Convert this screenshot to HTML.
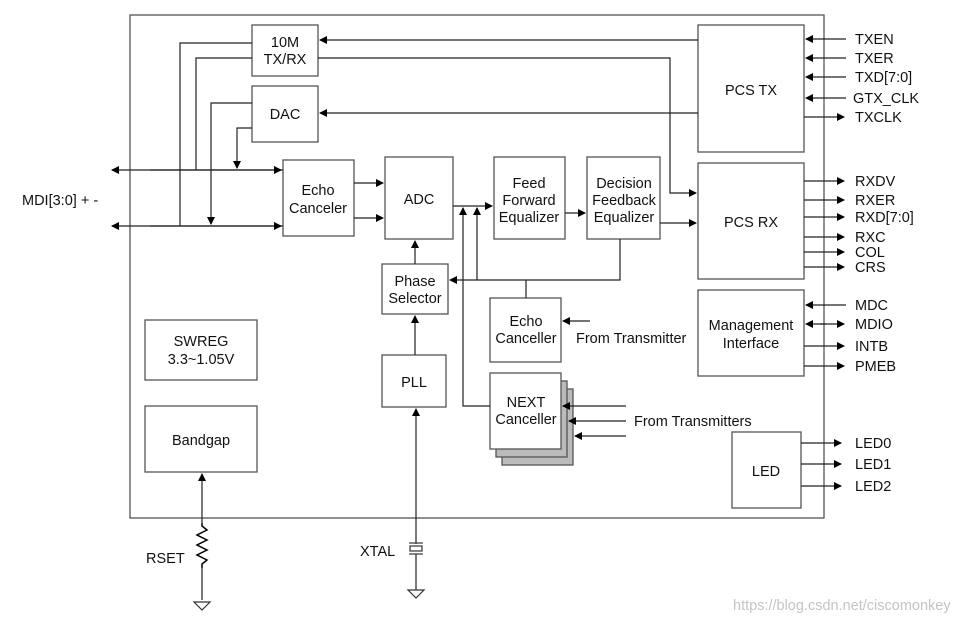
<!DOCTYPE html><html><head><style>body{margin:0;background:#fff}svg{display:block}text{font-family:"Liberation Sans",Arial,sans-serif;font-size:14.5px;fill:#111}</style></head><body>
<svg width="976" height="623" viewBox="0 0 976 623" xmlns="http://www.w3.org/2000/svg">
<defs><marker id="a" markerWidth="8" markerHeight="8" refX="7" refY="4" orient="auto" markerUnits="userSpaceOnUse"><path d="M0,0L8,4L0,8z" fill="#000"/></marker></defs>
<g fill="#fff" stroke="#555" stroke-width="1.3">
<rect x="130" y="15" width="694" height="503"/>
<rect x="252" y="25" width="66" height="51"/>
<rect x="252" y="86" width="66" height="56"/>
<rect x="283" y="160" width="71" height="76"/>
<rect x="385" y="157" width="68" height="82"/>
<rect x="382" y="264" width="66" height="50"/>
<rect x="382" y="355" width="64" height="52"/>
<rect x="494" y="157" width="71" height="82"/>
<rect x="587" y="157" width="73" height="82"/>
<rect x="698" y="25" width="106" height="127"/>
<rect x="698" y="163" width="106" height="116"/>
<rect x="698" y="290" width="106" height="86"/>
<rect x="732" y="432" width="69" height="76"/>
<rect x="490" y="298" width="71" height="64"/>
<rect x="502" y="389" width="71" height="76" fill="#bbb"/>
<rect x="496" y="381" width="71" height="76" fill="#bbb"/>
<rect x="490" y="373" width="71" height="76"/>
<rect x="145" y="320" width="112" height="60"/>
<rect x="145" y="406" width="112" height="66"/>
</g>
<g stroke="#222" stroke-width="1.2" fill="none">
<line x1="283" y1="170" x2="112" y2="170" marker-end="url(#a)"/><line x1="150" y1="170" x2="281" y2="170" marker-end="url(#a)"/>
<line x1="283" y1="226" x2="112" y2="226" marker-end="url(#a)"/><line x1="150" y1="226" x2="281" y2="226" marker-end="url(#a)"/>
<polyline points="252,43 180,43 180,226"/><polyline points="252,58 196,58 196,170"/>
<polyline points="252,103 211,103 211,224" marker-end="url(#a)"/><polyline points="252,128 237,128 237,168" marker-end="url(#a)"/>
<line x1="354" y1="183" x2="383" y2="183" marker-end="url(#a)"/><line x1="354" y1="218" x2="383" y2="218" marker-end="url(#a)"/>
<line x1="453" y1="206" x2="492" y2="206" marker-end="url(#a)"/>
<polyline points="490,406 463,406 463,208" marker-end="url(#a)"/>
<line x1="477" y1="280" x2="477" y2="208" marker-end="url(#a)"/>
<polyline points="620,239 620,280 450,280" marker-end="url(#a)"/>
<line x1="526" y1="298" x2="526" y2="280"/>
<line x1="415" y1="264" x2="415" y2="241" marker-end="url(#a)"/>
<line x1="415" y1="355" x2="415" y2="316" marker-end="url(#a)"/>
<line x1="565" y1="213" x2="585" y2="213" marker-end="url(#a)"/>
<line x1="660" y1="223" x2="696" y2="223" marker-end="url(#a)"/>
<polyline points="318,58 670,58 670,193 696,193" marker-end="url(#a)"/>
<line x1="698" y1="40" x2="320" y2="40" marker-end="url(#a)"/>
<line x1="698" y1="113" x2="320" y2="113" marker-end="url(#a)"/>
<line x1="590" y1="321" x2="563" y2="321" marker-end="url(#a)"/>
<line x1="626" y1="406" x2="563" y2="406" marker-end="url(#a)"/>
<line x1="626" y1="421" x2="569" y2="421" marker-end="url(#a)"/>
<line x1="626" y1="436" x2="575" y2="436" marker-end="url(#a)"/>
<line x1="846" y1="39" x2="806" y2="39" marker-end="url(#a)"/><line x1="846" y1="58" x2="806" y2="58" marker-end="url(#a)"/><line x1="846" y1="77" x2="806" y2="77" marker-end="url(#a)"/><line x1="846" y1="98" x2="806" y2="98" marker-end="url(#a)"/><line x1="846" y1="305" x2="806" y2="305" marker-end="url(#a)"/><line x1="826" y1="324" x2="806" y2="324" marker-end="url(#a)"/>
<line x1="804" y1="117" x2="844" y2="117" marker-end="url(#a)"/>
<line x1="804" y1="181" x2="844" y2="181" marker-end="url(#a)"/><line x1="804" y1="200" x2="844" y2="200" marker-end="url(#a)"/><line x1="804" y1="217" x2="844" y2="217" marker-end="url(#a)"/><line x1="804" y1="237" x2="844" y2="237" marker-end="url(#a)"/><line x1="804" y1="252" x2="844" y2="252" marker-end="url(#a)"/><line x1="804" y1="267" x2="844" y2="267" marker-end="url(#a)"/>
<line x1="820" y1="324" x2="844" y2="324" marker-end="url(#a)"/><line x1="804" y1="346" x2="844" y2="346" marker-end="url(#a)"/><line x1="804" y1="366" x2="844" y2="366" marker-end="url(#a)"/>
<line x1="801" y1="443" x2="841" y2="443" marker-end="url(#a)"/><line x1="801" y1="464" x2="841" y2="464" marker-end="url(#a)"/><line x1="801" y1="486" x2="841" y2="486" marker-end="url(#a)"/>
<line x1="202" y1="600" x2="202" y2="474" marker-end="url(#a)"/>
<line x1="416" y1="590" x2="416" y2="409" marker-end="url(#a)"/>
</g>
<rect x="196" y="523" width="12" height="45" fill="#fff"/>
<polyline points="202,523 202,526 207,530 197,535 207,540 197,545 207,550 197,555 207,560 202,564 202,568" fill="none" stroke="#000" stroke-width="1.5"/>
<rect x="410" y="544" width="12" height="10" fill="#fff"/>
<g stroke="#333" stroke-width="1.2" fill="#fff"><line x1="409" y1="543" x2="423" y2="543"/><rect x="410" y="546" width="12" height="5"/><line x1="409" y1="554" x2="423" y2="554"/>
<path d="M194,602L210,602L202,610z"/><path d="M408,590L424,590L416,598z"/></g>
<g text-anchor="middle">
<text x="285" y="47">10M</text><text x="285" y="64">TX/RX</text>
<text x="285" y="119">DAC</text>
<text x="318" y="195">Echo</text><text x="318" y="213">Canceler</text>
<text x="419" y="204">ADC</text>
<text x="415" y="286">Phase</text><text x="415" y="303">Selector</text>
<text x="414" y="387">PLL</text>
<text x="529" y="188">Feed</text><text x="529" y="205">Forward</text><text x="529" y="222">Equalizer</text>
<text x="624" y="188">Decision</text><text x="624" y="205">Feedback</text><text x="624" y="222">Equalizer</text>
<text x="751" y="95">PCS TX</text><text x="751" y="227">PCS RX</text>
<text x="751" y="330">Management</text><text x="751" y="348">Interface</text>
<text x="766" y="476">LED</text>
<text x="526" y="326">Echo</text><text x="526" y="343">Canceller</text>
<text x="526" y="407">NEXT</text><text x="526" y="424">Canceller</text>
<text x="201" y="346">SWREG</text><text x="201" y="364">3.3~1.05V</text>
<text x="201" y="445">Bandgap</text>
</g>
<text x="22" y="205">MDI[3:0] + -</text>
<text x="576" y="343">From Transmitter</text>
<text x="634" y="426">From Transmitters</text>
<text x="146" y="563">RSET</text><text x="360" y="556">XTAL</text>
<g><text x="855" y="44">TXEN</text><text x="855" y="63">TXER</text><text x="855" y="82">TXD[7:0]</text><text x="853" y="103">GTX_CLK</text><text x="855" y="122">TXCLK</text>
<text x="855" y="186">RXDV</text><text x="855" y="205">RXER</text><text x="855" y="222">RXD[7:0]</text><text x="855" y="242">RXC</text><text x="855" y="257">COL</text><text x="855" y="272">CRS</text>
<text x="855" y="310">MDC</text><text x="855" y="329">MDIO</text><text x="855" y="351">INTB</text><text x="855" y="371">PMEB</text>
<text x="855" y="448">LED0</text><text x="855" y="469">LED1</text><text x="855" y="491">LED2</text></g>
<text x="733" y="610" style="font-size:14.5px;fill:#c4c4c4">https://blog.csdn.net/ciscomonkey</text>
</svg></body></html>
